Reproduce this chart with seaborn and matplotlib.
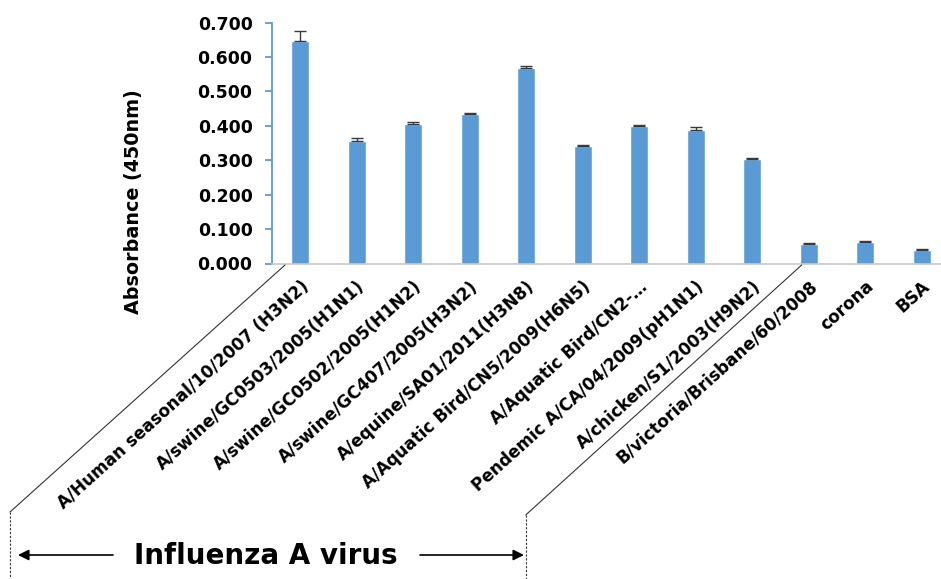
import numpy as np
import pandas as pd
import matplotlib
matplotlib.use("Agg")
import matplotlib.pyplot as plt
from matplotlib.lines import Line2D
from matplotlib.patches import FancyArrowPatch
import seaborn as sns

# Antigen panel and measured absorbance at 450 nm
strains = [
    "A/Human seasonal/10/2007 (H3N2)",
    "A/swine/GC0503/2005(H1N1)",
    "A/swine/GC0502/2005(H1N2)",
    "A/swine/GC407/2005(H3N2)",
    "A/equine/SA01/2011(H3N8)",
    "A/Aquatic Bird/CN5/2009(H6N5)",
    "A/Aquatic Bird/CN2-\u2026",
    "Pendemic A/CA/04/2009(pH1N1)",
    "A/chicken/S1/2003(H9N2)",
    "B/victoria/Brisbane/60/2008",
    "corona",
    "BSA",
]
absorbance = [0.648, 0.356, 0.406, 0.434, 0.569, 0.342, 0.400, 0.387, 0.303, 0.057, 0.063, 0.040]
error_up = [0.028, 0.009, 0.004, 0.004, 0.004, 0.002, 0.004, 0.010, 0.004, 0.002, 0.002, 0.002]
y_ticks = [0.0, 0.1, 0.2, 0.3, 0.4, 0.5, 0.6, 0.7]

df = pd.DataFrame({"strain": strains, "absorbance": absorbance})

sns.set_theme(style="white")
plt.rcParams["font.family"] = ["DejaVu Sans"]
plt.rcParams["text.color"] = "black"
plt.rcParams["xtick.color"] = "black"
plt.rcParams["ytick.color"] = "black"
plt.rcParams["axes.labelcolor"] = "black"

W, H = 941, 579
fig = plt.figure(figsize=(W / 100, H / 100), dpi=100)


def fx(px):
    return px / W


def fy(py):
    return 1 - py / H


ax_left, ax_right = 272, 950
ax_top, ax_bottom = 22.7, 263.5
ax = fig.add_axes([fx(ax_left), fy(ax_bottom), fx(ax_right - ax_left), (ax_bottom - ax_top) / H])

bar_color = "#5B9BD5"
sns.barplot(data=df, x="strain", y="absorbance", color=bar_color, saturation=1,
            width=0.31, ax=ax, errorbar=None)

pos = np.arange(len(strains))
ax.errorbar(pos, absorbance, yerr=[np.zeros(len(pos)), error_up], fmt="none",
            ecolor="#3A3A3A", elinewidth=1.0, capsize=4.2, capthick=1.0)

ax.set_xlim(-0.5, len(strains) - 0.5)
ax.set_ylim(0, 0.7)
ax.set_yticks(y_ticks)
ax.set_yticklabels([f"{v:.3f}" for v in y_ticks], fontsize=12.4, fontweight="bold")

ax.set_xlabel("")
ax.set_ylabel("Absorbance (450nm)", fontsize=13.8, fontweight="bold", va="center")
ax.yaxis.set_label_coords((133 - ax_left) / (ax_right - ax_left), (ax_bottom - 201.5) / (ax_bottom - ax_top))

for lab in ax.get_xticklabels():
    lab.set_rotation(42)
    lab.set_ha("right")
    lab.set_rotation_mode("anchor")
    lab.set_fontsize(12.2)
    lab.set_fontweight("bold")
ax.tick_params(axis="x", length=0, pad=10)
ax.tick_params(axis="y", length=5, width=1.3, color=bar_color, direction="out", pad=9, left=True)

for s in ("top", "right"):
    ax.spines[s].set_visible(False)
ax.spines["left"].set_color(bar_color)
ax.spines["left"].set_linewidth(1.3)
ax.spines["bottom"].set_color("#C8C8C8")
ax.spines["bottom"].set_linewidth(1.2)
ax.grid(False)

# Bracket marking the influenza A group
line_kw = dict(color="#333333", lw=0.8, transform=fig.transFigure)
fig.add_artist(Line2D([fx(285), fx(10)], [fy(265), fy(512)], **line_kw))
fig.add_artist(Line2D([fx(10), fx(10)], [fy(512), fy(579)], ls=(0, (2, 1.5)), **line_kw))
fig.add_artist(Line2D([fx(801.7), fx(525.7)], [fy(265), fy(515)], **line_kw))
fig.add_artist(Line2D([fx(525.7), fx(525.7)], [fy(515), fy(579)], ls=(0, (2, 1.5)), **line_kw))

arrow_kw = dict(arrowstyle="-|>", color="black", lw=1.2, mutation_scale=16, shrinkA=0, shrinkB=0)
fig.add_artist(FancyArrowPatch((fx(113), fy(555)), (fx(18), fy(555)),
                               transform=fig.transFigure, **arrow_kw))
fig.add_artist(FancyArrowPatch((fx(420), fy(555)), (fx(524), fy(555)),
                               transform=fig.transFigure, **arrow_kw))
fig.text(fx(266), fy(556), "Influenza A virus", ha="center", va="center",
         fontsize=20, fontweight="bold")

fig.savefig("out.png", dpi=100)
